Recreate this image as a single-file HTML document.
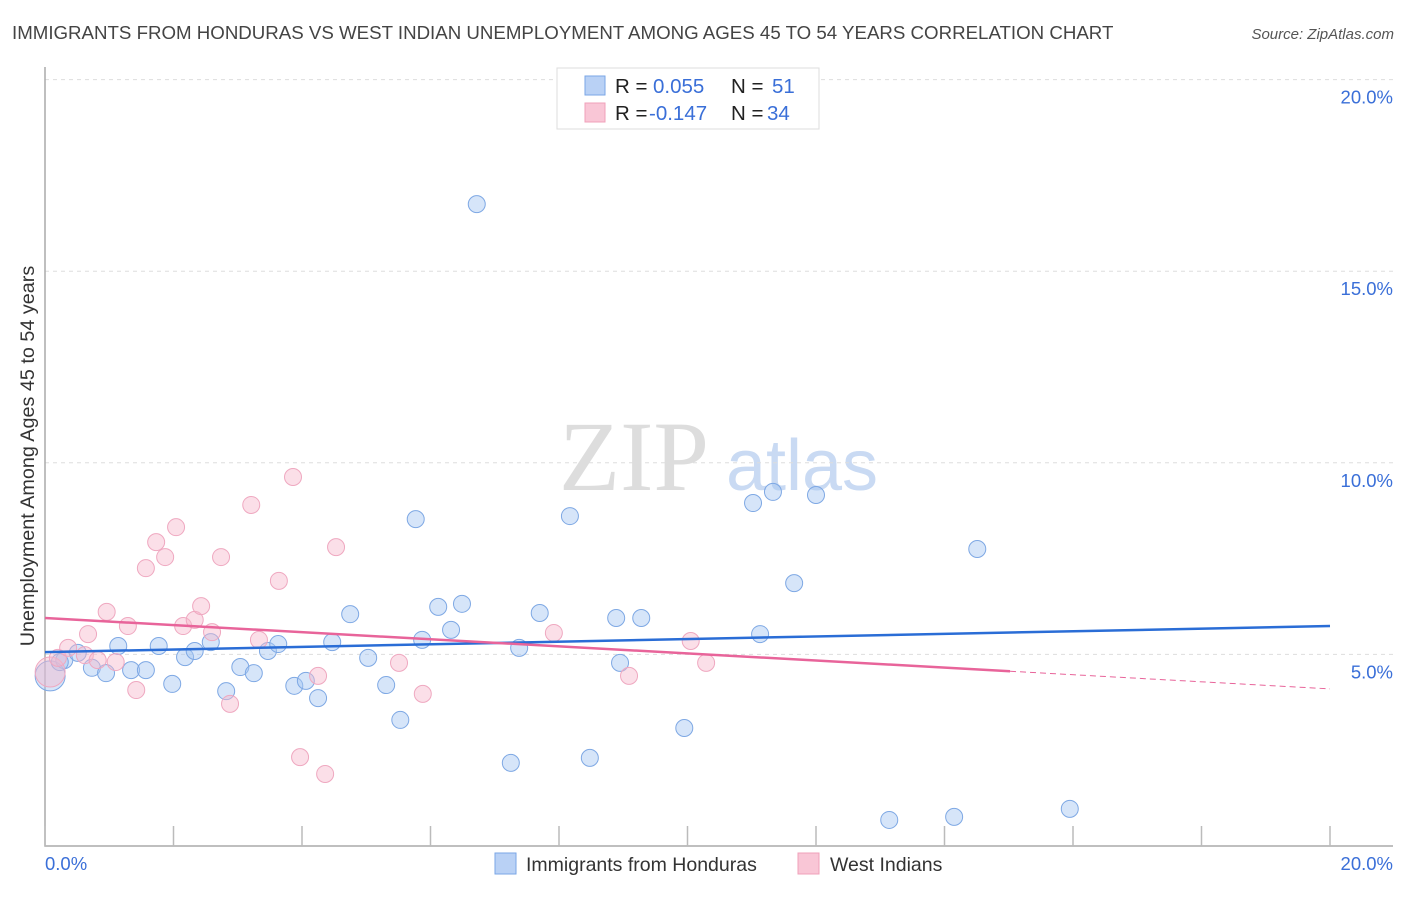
<!DOCTYPE html>
<html><head><meta charset="utf-8"><style>
body{margin:0;background:#fff;font-family:"Liberation Sans",sans-serif}
</style></head><body>
<svg width="1406" height="892" xmlns="http://www.w3.org/2000/svg" font-family="Liberation Sans, sans-serif">
<text x="12" y="39" font-size="18.7" fill="#444">IMMIGRANTS FROM HONDURAS VS WEST INDIAN UNEMPLOYMENT AMONG AGES 45 TO 54 YEARS CORRELATION CHART</text>
<text x="1394" y="39" font-size="15" fill="#555" font-style="italic" text-anchor="end">Source: ZipAtlas.com</text>
<g>
<text x="634" y="490" font-size="100" fill="#ddd" text-anchor="middle" style="font-family:'Liberation Serif',serif">ZIP</text>
<text x="802" y="490" font-size="72" fill="#c9daf3" text-anchor="middle">atlas</text>
</g>
<g id="grid"></g>
<g id="axes"></g>
<g id="marks"></g>
<text x="34" y="456" font-size="19.8" fill="#333" text-anchor="middle" transform="rotate(-90 34 456)">Unemployment Among Ages 45 to 54 years</text>
<g>
<rect x="557" y="68" width="262" height="61" fill="#fff" stroke="#ddd"/>
<rect x="585" y="76" width="20" height="19" fill="#b9d1f5" stroke="#7aa6e6"/>
<rect x="585" y="103" width="20" height="19" fill="#f9c6d6" stroke="#f0a0ba"/>
<text x="615" y="93" font-size="20.5" fill="#222">R = <tspan x="653" fill="#3a6fd8">0.055</tspan><tspan x="731">N = </tspan><tspan x="772" fill="#3a6fd8">51</tspan></text>
<text x="615" y="120" font-size="20.5" fill="#222">R = <tspan x="649" fill="#3a6fd8">-0.147</tspan><tspan x="731">N = </tspan><tspan x="767" fill="#3a6fd8">34</tspan></text>
</g>
<g>
<rect x="495" y="853" width="21" height="21" fill="#b9d1f5" stroke="#7aa6e6"/>
<text x="526" y="871" font-size="19.5" fill="#333">Immigrants from Honduras</text>
<rect x="798" y="853" width="21" height="21" fill="#f9c6d6" stroke="#f0a0ba"/>
<text x="830" y="871" font-size="19.5" fill="#333">West Indians</text>
</g>
</svg>
<script>
const blueX=[0.08,0.30,0.51,0.73,0.95,1.14,1.34,1.57,1.77,1.98,2.18,2.33,2.58,2.82,3.04,3.25,3.47,3.63,3.88,4.06,4.25,4.47,4.75,5.03,5.31,5.53,5.77,5.87,6.12,6.32,6.49,6.72,7.25,7.38,7.70,8.17,8.48,8.89,8.95,9.28,9.95,11.02,11.13,11.33,11.66,12.00,13.14,14.15,14.51,15.95,0.23];
const blueY=[4.44,4.85,5.04,4.65,4.51,5.22,4.59,4.59,5.22,4.23,4.93,5.09,5.32,4.04,4.67,4.51,5.09,5.27,4.18,4.31,3.86,5.32,6.05,4.91,4.20,3.29,8.53,5.38,6.24,5.64,6.32,16.75,2.17,5.17,6.08,8.61,2.30,5.95,4.78,5.95,3.08,8.95,5.53,9.24,6.86,9.16,0.68,0.76,7.75,0.97,4.80];
const pinkX=[0.08,0.20,0.36,0.62,0.67,0.82,0.96,1.10,1.29,1.42,1.57,1.73,1.87,2.04,2.15,2.33,2.43,2.60,2.74,2.88,3.21,3.33,3.64,3.86,3.97,4.25,4.36,4.53,5.51,5.88,7.92,9.09,10.05,10.29];
const pinkY=[4.54,4.91,5.17,4.98,5.53,4.85,6.11,4.80,5.74,4.07,7.25,7.93,7.54,8.32,5.74,5.90,6.26,5.58,7.54,3.71,8.90,5.38,6.92,9.63,2.32,4.44,1.88,7.80,4.78,3.97,5.56,4.44,5.35,4.78];
const blueTrend=[5.06,5.74];
const pinkTrend=[5.95,4.10];
const pinkSolidEnd=15.02;
const yTicks=[5,10,15,20];
const yTickLabels=["5.0%","10.0%","15.0%","20.0%"];
const xTicks=[0,2,4,6,8,10,12,14,16,18,20];
const NS="http://www.w3.org/2000/svg";
const X=v=>45+v/20*1285, Y=v=>846-v/5*191.6;
function mk(t,a,p){const e=document.createElementNS(NS,t);for(const k in a)e.setAttribute(k,a[k]);p.appendChild(e);return e;}
const grid=document.getElementById('grid'),axes=document.getElementById('axes'),marks=document.getElementById('marks');
yTicks.forEach((v,i)=>{
 const l=mk('line',{x1:45,x2:1393,y1:Y(v),y2:Y(v),stroke:'#ddd','stroke-dasharray':'4,4'},grid);
 
 
 const t=mk('text',{x:1393,y:Y(v)+24,'font-size':18.5,fill:'#3a6fd8','text-anchor':'end'},axes);
 t.textContent=yTickLabels[i];
 
 
});
const ax=mk('path',{d:'M45,67 V846 H1393',fill:'none',stroke:'#aaa','stroke-width':1.5},axes);


xTicks.forEach(v=>{const t=mk('line',{x1:X(v),x2:X(v),y1:826,y2:846,stroke:'#bbb','stroke-width':1.5},axes);
 
 });
let t0=mk('text',{x:45,y:870,'font-size':18.5,fill:'#3a6fd8'},axes);t0.textContent='0.0%';


let t1=mk('text',{x:1393,y:870,'font-size':18.5,fill:'#3a6fd8','text-anchor':'end'},axes);t1.textContent='20.0%';


function pts(xs,ys,fill,stroke,name){xs.forEach((x,i)=>{const big=i===0;
 const c=mk('circle',{cx:X(x),cy:Y(ys[i]),r:big?15:8.5,fill:fill,stroke:stroke,'stroke-width':1},marks);
 
 });}
pts(blueX,blueY,'rgba(165,198,242,0.45)','#7ea8e4','point-honduras');
pts(pinkX,pinkY,'rgba(247,185,205,0.45)','#efa8c0','point-west-indians');
const bl=mk('line',{x1:X(0),y1:Y(blueTrend[0]),x2:X(20),y2:Y(blueTrend[1]),stroke:'#2a6dd6','stroke-width':2.5},marks);


const py=x=>pinkTrend[0]+(pinkTrend[1]-pinkTrend[0])*x/20;
const pl=mk('line',{x1:X(0),y1:Y(py(0)),x2:X(pinkSolidEnd),y2:Y(py(pinkSolidEnd)),stroke:'#e8649a','stroke-width':2.5},marks);


const pd=mk('line',{x1:X(pinkSolidEnd),y1:Y(py(pinkSolidEnd)),x2:X(20),y2:Y(py(20)),stroke:'#e8649a','stroke-width':1,'stroke-dasharray':'6,4'},marks);


</script>
</body></html>
